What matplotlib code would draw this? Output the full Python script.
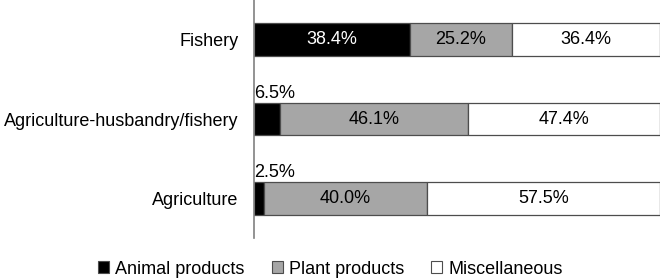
import matplotlib
matplotlib.use("Agg")
import matplotlib.pyplot as plt
from matplotlib.patches import Patch

plt.rcParams['font.family'] = ['Liberation Sans', 'DejaVu Sans']

categories = ["Agriculture", "Agriculture-husbandry/fishery", "Fishery"]
series_names = ["Animal products", "Plant products", "Miscellaneous"]
animal = [2.5, 6.5, 38.4]
plant = [40.0, 46.1, 25.2]
misc = [57.5, 47.4, 36.4]
colors = ["#000000", "#a6a6a6", "#ffffff"]
text_colors = ["white", "black", "black"]
FS = 13

fig = plt.figure(figsize=(6.61, 2.8), dpi=100)
ax = fig.add_axes([254/661, 42/280, 406/661, 238/280])

y = list(range(len(categories)))
left = [0.0] * len(categories)
for vals, col, tc in zip([animal, plant, misc], colors, text_colors):
    ax.barh(y, vals, left=left, height=0.415, color=col,
            edgecolor="#4d4d4d", linewidth=0.9)
    for i, (v, l) in enumerate(zip(vals, left)):
        if v >= 10:
            ax.text(l + v / 2, i, f"{v:.1f}%", ha="center", va="center",
                    color=tc, fontsize=FS)
        else:
            ax.text(l, i + 0.215, f"{v:.1f}%", ha="left", va="bottom",
                    color="black", fontsize=FS)
    left = [a + b for a, b in zip(left, vals)]

ax.set_xlim(0, 100)
ax.set_ylim(-0.5, 2.5)
ax.set_yticks(y)
ax.set_yticklabels(categories, fontsize=FS)
ax.tick_params(axis="y", length=0, pad=11)
ax.set_xticks([])
for s in ["top", "right", "bottom"]:
    ax.spines[s].set_visible(False)
ax.spines["left"].set_color("#808080")
ax.spines["left"].set_linewidth(1.2)

handles = [Patch(facecolor=c, edgecolor="#4d4d4d", linewidth=0.8) for c in colors]
fig.legend(handles, series_names, loc="center", bbox_to_anchor=(0.5, 11/280),
           ncol=3, frameon=False, fontsize=FS, handlelength=0.6, handleheight=0.6,
           handletextpad=0.35, columnspacing=1.5, borderpad=0)

fig.savefig("out.png", dpi=100)
